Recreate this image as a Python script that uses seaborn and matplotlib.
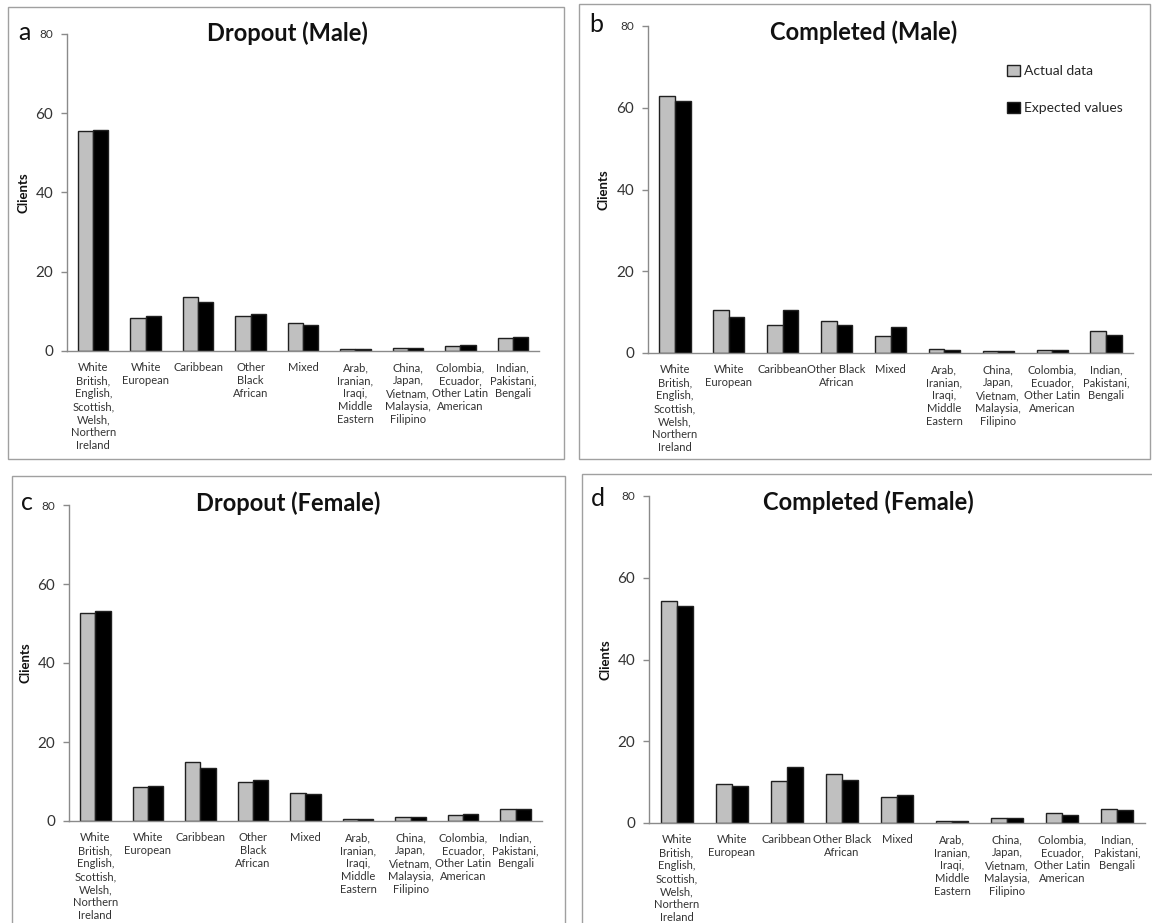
import matplotlib
matplotlib.use("Agg")
import matplotlib.pyplot as plt
import seaborn as sns
import pandas as pd
from matplotlib.patches import Rectangle

sns.set_theme(style="white")
plt.rcParams['font.family'] = ['Lato', 'DejaVu Sans']

categories = [
    "White\nBritish,\nEnglish,\nScottish,\nWelsh,\nNorthern\nIreland",
    "White\nEuropean",
    "Caribbean",
    "Other\nBlack\nAfrican",
    "Mixed",
    "Arab,\nIranian,\nIraqi,\nMiddle\nEastern",
    "China,\nJapan,\nVietnam,\nMalaysia,\nFilipino",
    "Colombia,\nEcuador,\nOther Latin\nAmerican",
    "Indian,\nPakistani,\nBengali",
]
# panels b and d wrap "Other Black African" differently
categories_bd = list(categories)
categories_bd[3] = "Other Black\nAfrican"

series_names = ["Actual data", "Expected values"]

dropout_male_actual = [55.4, 8.3, 13.6, 8.8, 7.1, 0.6, 0.8, 1.3, 3.3]
dropout_male_expected = [55.8, 8.9, 12.3, 9.3, 6.6, 0.6, 0.8, 1.5, 3.5]
completed_male_actual = [62.9, 10.6, 6.8, 7.9, 4.1, 1.1, 0.5, 0.8, 5.3]
completed_male_expected = [61.6, 8.9, 10.5, 6.9, 6.3, 0.8, 0.5, 0.65, 4.4]
dropout_female_actual = [52.7, 8.7, 14.9, 10.0, 7.1, 0.5, 0.9, 1.6, 3.0]
dropout_female_expected = [53.2, 8.9, 13.5, 10.5, 6.8, 0.5, 1.1, 1.8, 3.0]
completed_female_actual = [54.4, 9.5, 10.3, 12.0, 6.3, 0.55, 1.3, 2.4, 3.5]
completed_female_expected = [53.2, 9.0, 13.6, 10.6, 6.9, 0.55, 1.2, 1.9, 3.2]

y_ticks = [0, 20, 40, 60, 80]

W, H = 1152, 923
fig = plt.figure(figsize=(W / 100, H / 100), dpi=100)

def fx(px):
    return px / W

def fy(py):
    return 1 - py / H

# panel borders (pixel coords: x0, x1, y0(top), y1(bottom))
borders = [(8, 564, 7, 459), (579, 1150, 4, 459), (12, 565, 476, 926), (582, 1156, 474, 926)]
for x0, x1, y0, y1 in borders:
    fig.patches.append(Rectangle((fx(x0), fy(y1)), fx(x1) - fx(x0), fy(y0) - fy(y1),
                                 transform=fig.transFigure, fill=False,
                                 edgecolor="#a0a0a0", linewidth=1.0))

panels = [
    dict(title="Dropout (Male)", letter="a", act=dropout_male_actual, exp=dropout_male_expected,
         box=(67, 539, 34, 351), cats=categories, letter_xy=(24, 32), ylab_x=29,
         title_xy=(287, 33), legend=False),
    dict(title="Completed (Male)", letter="b", act=completed_male_actual, exp=completed_male_expected,
         box=(648, 1133, 26, 353), cats=categories_bd, letter_xy=(596, 25), ylab_x=609,
         title_xy=(864, 32), legend=True),
    dict(title="Dropout (Female)", letter="c", act=dropout_female_actual, exp=dropout_female_expected,
         box=(69, 542, 505, 821), cats=categories, letter_xy=(27, 502), ylab_x=31,
         title_xy=(288, 503), legend=False),
    dict(title="Completed (Female)", letter="d", act=completed_female_actual, exp=completed_female_expected,
         box=(649, 1145, 496, 823), cats=categories_bd, letter_xy=(598, 498), ylab_x=611,
         title_xy=(868, 502), legend=False),
]

palette = {"Actual data": "#c0c0c0", "Expected values": "#000000"}
spine_col = "#8a8a8a"

for p in panels:
    x0, x1, y0, y1 = p["box"]
    ax = fig.add_axes([fx(x0), fy(y1), fx(x1) - fx(x0), fy(y0) - fy(y1)])
    df = pd.DataFrame({
        "cat": list(range(len(categories))) * 2,
        "series": [series_names[0]] * len(categories) + [series_names[1]] * len(categories),
        "value": list(p["act"]) + list(p["exp"]),
    })
    sns.barplot(data=df, x="cat", y="value", hue="series", palette=palette, ax=ax,
                width=0.58, gap=0, edgecolor="#202020", linewidth=1.0, legend=p["legend"],
                saturation=1)
    ax.set_xlim(-0.5, len(categories) - 0.5)
    ax.set_ylim(0, 80)
    ax.set_yticks(y_ticks)
    ylabels = ax.set_yticklabels([str(t) for t in y_ticks], fontsize=11, color="#333333")
    ylabels[-1].set_fontsize(8.5)
    ax.set_xticks(range(len(categories)))
    ax.set_xticklabels(p["cats"], fontsize=8.0, color="#333333", linespacing=1.22,
                       va="top", ha="center")
    ax.set_xticks([i + 0.5 for i in range(-1, len(categories))], minor=True)
    ax.tick_params(axis="x", which="major", length=0, pad=8)
    ax.tick_params(axis="x", which="minor", length=5, width=1, color=spine_col, direction="out")
    ax.tick_params(axis="y", which="major", length=4, width=1, color=spine_col, direction="out", pad=6,
                   left=True)
    for s in ["top", "right"]:
        ax.spines[s].set_visible(False)
    for s in ["left", "bottom"]:
        ax.spines[s].set_color(spine_col)
        ax.spines[s].set_linewidth(1.0)
    ax.set_xlabel("")
    ax.set_ylabel("Clients", fontsize=9.5, fontweight="bold", color="#111111")
    ylx = (p["ylab_x"] - x0) / (x1 - x0)
    ax.yaxis.set_label_coords(ylx, 0.5)
    ax.grid(False)
    fig.text(fx(p["title_xy"][0]), fy(p["title_xy"][1]), p["title"], fontsize=17,
             fontweight="bold", ha="center", va="center", color="#111111")
    fig.text(fx(p["letter_xy"][0]), fy(p["letter_xy"][1]), p["letter"], fontsize=18,
             ha="center", va="center", color="#111111")
    if p["legend"]:
        ax.legend(loc="upper left", bbox_to_anchor=(0.715, 0.92), frameon=False,
                  fontsize=10, handlelength=0.9, handleheight=0.9, handletextpad=0.3,
                  labelspacing=1.75, title=None)

fig.savefig("out.png", dpi=100, facecolor="white")
